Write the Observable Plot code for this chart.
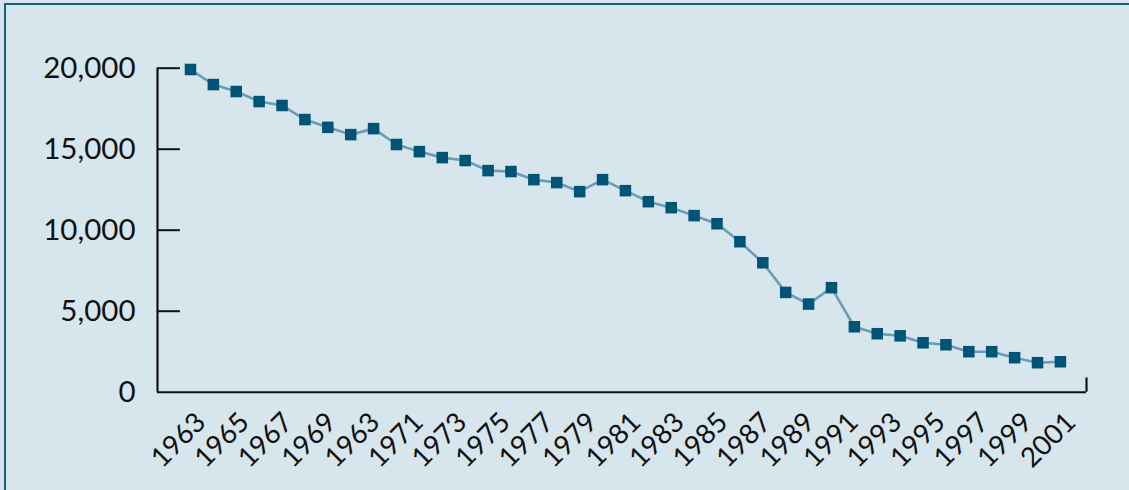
<!DOCTYPE html>
<html>
<head>
<meta charset="utf-8">
<script src="https://cdn.jsdelivr.net/npm/d3@7"></script>
<script src="https://cdn.jsdelivr.net/npm/@observablehq/plot@0.6"></script>
<style>
  html, body { margin: 0; padding: 0; background: #d7e5ed; }
  #wrap { position: relative; width: 1129px; height: 490px; overflow: hidden; background: #d7e5ed; }
  #border { position: absolute; left: 4px; top: 3px; width: 1200px; height: 600px;
            border-left: 2px solid #1b5f7d; border-top: 2px solid #1b5f7d; box-sizing: border-box; }
  #chart { position: absolute; left: 0; top: 0; }
</style>
</head>
<body>
<div id="wrap"><div id="border"></div><div id="chart"></div></div>
<script>
const years = d3.range(1963, 2002);
const values = [
  19920, 18990, 18560, 17940, 17700, 16830, 16350, 15900, 16270, 15290,
  14850, 14480, 14300, 13680, 13620, 13120, 12940, 12380, 13120, 12440,
  11760, 11390, 10900, 10400, 9290, 7990, 6160, 5440, 6450, 4040,
  3610, 3480, 3050, 2930, 2500, 2500, 2130, 1820, 1880
];
const xLabels = ["1963","1965","1967","1969","1963","1971","1973","1975","1977","1979",
  "1981","1983","1985","1987","1989","1991","1993","1995","1997","1999","2001"];
const yTicks = [0, 5000, 10000, 15000, 20000];

const data = years.map((year, i) => ({year, value: values[i]}));
const xMin = 1961.56, xMax = 2002.14;
const labelStep = (years[years.length - 1] - years[0]) / (xLabels.length - 1);

const chart = Plot.plot({
  width: 1129,
  height: 490,
  marginLeft: 157,
  marginRight: 43,
  marginTop: 67.7,
  marginBottom: 98.3,
  style: {background: "transparent", fontFamily: "Lato, sans-serif", color: "#111"},
  x: {domain: [xMin, xMax], axis: null},
  y: {domain: [0, 20000], axis: null},
  marks: [
    Plot.axisY({ticks: yTicks, tickSize: 0, tickPadding: 22, tickFormat: d3.format(","),
      fontSize: 29.5, label: null, fill: "#111"}),
    Plot.ruleY([0], {stroke: "#111", strokeWidth: 2}),
    Plot.ruleX([xMin], {y1: 0, y2: 20000, stroke: "#111", strokeWidth: 2.2}),
    Plot.ruleX([xMax], {y1: 0, y2: 880, stroke: "#111", strokeWidth: 2.2}),
    Plot.ruleY(yTicks.slice(1), {x1: xMin, x2: xMin + 1, stroke: "#111", strokeWidth: 2}),
    Plot.line(data, {x: "year", y: "value", stroke: "#6a9cb4", strokeWidth: 2.6}),
    Plot.dot(data, {x: "year", y: "value", symbol: "square", r: 6.5, fill: "#005476"}),
    Plot.text(xLabels, {x: (d, i) => years[0] + i * labelStep, y: 0, text: d => d,
      rotate: -45, textAnchor: "middle", dx: -12, dy: 48, fontSize: 27.5, fill: "#111"})
  ]
});
document.getElementById("chart").appendChild(chart);
</script>
</body>
</html>
